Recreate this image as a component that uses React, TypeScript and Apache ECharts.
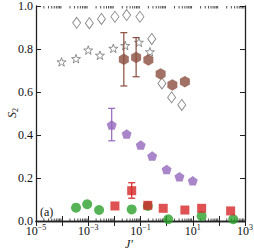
import React, { useEffect, useRef } from "react";
import * as echarts from "echarts";

const diamondX = [3.6e-4, 1.1e-3, 3.2e-3, 1.05e-2, 2.95e-2, 9.5e-2, 0.27, 0.66, 1.55, 3.8];
const diamondY = [0.922, 0.92, 0.94, 0.95, 0.958, 0.95, 0.847, 0.64, 0.575, 0.54];
const starX = [9.5e-5, 3.4e-4, 1.0e-3, 2.8e-3, 9.1e-3, 2.6e-2, 8.7e-2, 0.23];
const starY = [0.74, 0.755, 0.795, 0.771, 0.803, 0.816, 0.831, 0.787];
const hexX = [2.3e-2, 6.8e-2, 0.2, 0.59, 1.66, 5.0];
const hexY = [0.752, 0.761, 0.749, 0.684, 0.633, 0.648];
const hexErrLo = [0.628, 0.671];
const hexErrHi = [0.876, 0.853];
const pentX = [7.9e-3, 2.95e-2, 0.102, 0.28, 1.0, 3.1, 10];
const pentY = [0.447, 0.405, 0.353, 0.302, 0.24, 0.206, 0.187];
const pentErrLo = [0.373];
const pentErrHi = [0.524];
const squareX = [1.05e-2, 4.6e-2, 0.19, 0.74, 5.0, 21.9, 282];
const squareY = [0.07, 0.141, 0.073, 0.059, 0.051, 0.059, 0.047];
const squareErrLo = [null, 0.106];
const squareErrHi = [null, 0.178];
const circleX = [3.4e-4, 9.1e-4, 2.6e-3, 4.6e-2, 0.19, 1.15, 21.9, 355];
const circleY = [0.062, 0.078, 0.051, 0.054, 0.07, 0.008, 0.023, 0.008];
const xMin = 1e-5;
const xMax = 1e3;

const STAR = "path://M100 0 L123.5 67.6 L195.1 69.1 L138 112.4 L158.8 180.9 L100 140 L41.2 180.9 L62 112.4 L4.9 69.1 L76.5 67.6 Z";
const PENT = "path://M100 0 L195.1 69.1 L158.8 180.9 L41.2 180.9 L4.9 69.1 Z";
const HEX = "path://M100 0 L186.6 50 L186.6 150 L100 200 L13.4 150 L13.4 50 Z";

const BROWN = "#8b4d3f";
const PURPLE = "#9467bd";
const RED = "#d62728";
const GREEN = "#2ca02c";
const GRAY = "#666666";
const AX = "#222222";
const FONT = "'Liberation Serif', 'DejaVu Serif', serif";

function zip(xs: number[], ys: number[]) {
  return xs.map((x, i) => [x, ys[i]]);
}

function errData(xs: number[], lo: (number | null)[], hi: (number | null)[]) {
  const out: number[][] = [];
  lo.forEach((l, i) => {
    if (l != null && hi[i] != null) out.push([xs[i], l as number, hi[i] as number]);
  });
  return out;
}

function errSeries(data: number[][], color: string, z: number) {
  return {
    type: "custom",
    z,
    silent: true,
    data,
    renderItem: (_p: any, api: any) => {
      const x = api.value(0);
      const a = api.coord([x, api.value(1)]);
      const b = api.coord([x, api.value(2)]);
      const w = 3.5;
      const st = { stroke: color, lineWidth: 1.2 };
      return {
        type: "group",
        children: [
          { type: "line", shape: { x1: a[0], y1: a[1], x2: b[0], y2: b[1] }, style: st },
          { type: "line", shape: { x1: a[0] - w, y1: a[1], x2: a[0] + w, y2: a[1] }, style: st },
          { type: "line", shape: { x1: b[0] - w, y1: b[1], x2: b[0] + w, y2: b[1] }, style: st },
        ],
      };
    },
  };
}

const minorTicks: number[][] = [];
for (let e = -5; e < 3; e++) {
  for (let m = 2; m <= 9; m++) minorTicks.push([m * Math.pow(10, e)]);
}

export default function App() {
  const ref = useRef<HTMLDivElement>(null);
  useEffect(() => {
    document.body.style.margin = "0";
    const chart = echarts.init(ref.current!, null, { renderer: "svg" });
    const xLabel = (v: number) => {
      const e = Math.round(Math.log10(v));
      if (e % 2 === 0) return "";
      return "{b|10}{s|" + (e < 0 ? "\u2212" : "") + Math.abs(e) + "}";
    };
    const xBase: any = {
      type: "log",
      logBase: 10,
      min: xMin,
      max: xMax,
      splitNumber: 8,
      axisLine: { show: true, lineStyle: { color: AX, width: 1.3 } },
      axisTick: { show: true, inside: true, length: 5, lineStyle: { color: AX, width: 1 } },
      splitLine: { show: false },
    };
    const yBase: any = {
      type: "value",
      min: 0,
      max: 1,
      interval: 0.2,
      axisLine: { show: true, lineStyle: { color: AX, width: 1.3 } },
      axisTick: { show: true, inside: true, length: 5, lineStyle: { color: AX, width: 1 } },
      splitLine: { show: false },
    };
    chart.setOption({
      animation: false,
      grid: { left: 36, right: 9, top: 6, bottom: 31, containLabel: false, outerBoundsMode: "none" },
      xAxis: [
        {
          ...xBase,
          position: "bottom",
          axisLabel: {
            formatter: xLabel,
            margin: 2,
            rich: {
              b: { fontFamily: FONT, fontSize: 12, color: "#111", lineHeight: 13 },
              s: { fontFamily: FONT, fontSize: 8, color: "#111", verticalAlign: "bottom", padding: [0, 0, 7, 0] },
            },
          },
        },
        { ...xBase, position: "top", axisLabel: { show: false } },
      ],
      yAxis: [
        {
          ...yBase,
          position: "left",
          axisLabel: {
            formatter: (v: number) => v.toFixed(1),
            fontFamily: FONT,
            fontSize: 12,
            color: "#111",
            margin: 3,
          },
        },
        { ...yBase, position: "right", axisLabel: { show: false } },
      ],
      graphic: [
        {
          type: "text",
          x: 12,
          y: 113,
          rotation: Math.PI / 2,
          style: {
            text: "{i|S}{s|2}",
            textAlign: "center",
            textVerticalAlign: "middle",
            rich: {
              i: { fontFamily: FONT, fontStyle: "italic", fontSize: 12, fill: "#111" },
              s: { fontFamily: FONT, fontSize: 8, fill: "#111", verticalAlign: "top", padding: [6, 0, 0, 0] },
            },
          },
        },
        {
          type: "text",
          x: 129,
          y: 244,
          style: {
            text: "J\u2032",
            fontFamily: FONT,
            fontStyle: "italic",
            fontSize: 12,
            fill: "#111",
            textAlign: "center",
            textVerticalAlign: "middle",
          },
        },
        {
          type: "text",
          x: 40,
          y: 212,
          style: {
            text: "(a)",
            fontFamily: FONT,
            fontSize: 12,
            fill: "#111",
            textAlign: "left",
            textVerticalAlign: "middle",
          },
        },
      ],
      series: [
        {
          type: "custom",
          silent: true,
          data: minorTicks,
          renderItem: (_p: any, api: any) => {
            const x = api.value(0);
            const a = api.coord([x, 0]);
            const b = api.coord([x, 1]);
            const st = { stroke: AX, lineWidth: 0.8 };
            return {
              type: "group",
              children: [
                { type: "line", shape: { x1: a[0], y1: a[1], x2: a[0], y2: a[1] - 2.5 }, style: st },
                { type: "line", shape: { x1: b[0], y1: b[1], x2: b[0], y2: b[1] + 2.5 }, style: st },
              ],
            };
          },
          encode: { x: 0 },
        },
        {
          type: "scatter",
          data: zip(diamondX, diamondY),
          symbol: "diamond",
          symbolSize: [8, 11],
          itemStyle: { color: "#ffffff", borderColor: GRAY, borderWidth: 0.9 },
          z: 2,
        },
        {
          type: "scatter",
          data: zip(starX, starY),
          symbol: STAR,
          symbolSize: [9, 8.6],
          itemStyle: { color: "#ffffff", borderColor: GRAY, borderWidth: 0.9 },
          z: 2,
        },
        errSeries(errData(hexX, hexErrLo, hexErrHi), BROWN, 3),
        {
          type: "scatter",
          data: zip(hexX, hexY),
          symbol: HEX,
          symbolSize: [10, 11.5],
          itemStyle: { color: BROWN },
          z: 4,
        },
        errSeries(errData(pentX, pentErrLo, pentErrHi), PURPLE, 3),
        {
          type: "scatter",
          data: zip(pentX, pentY),
          symbol: PENT,
          symbolSize: [10, 9.5],
          itemStyle: { color: PURPLE },
          z: 4,
        },
        {
          type: "scatter",
          data: zip(circleX, circleY),
          symbol: "circle",
          symbolSize: 10,
          itemStyle: { color: GREEN },
          z: 4,
        },
        errSeries(errData(squareX, squareErrLo, squareErrHi), RED, 5),
        {
          type: "scatter",
          data: zip(squareX, squareY),
          symbol: "rect",
          symbolSize: 9,
          itemStyle: { color: RED },
          z: 6,
        },
      ],
    });
    return () => chart.dispose();
  }, []);
  return <div ref={ref} style={{ position: "absolute", left: 0, top: 0, width: 254, height: 252 }} />;
}
